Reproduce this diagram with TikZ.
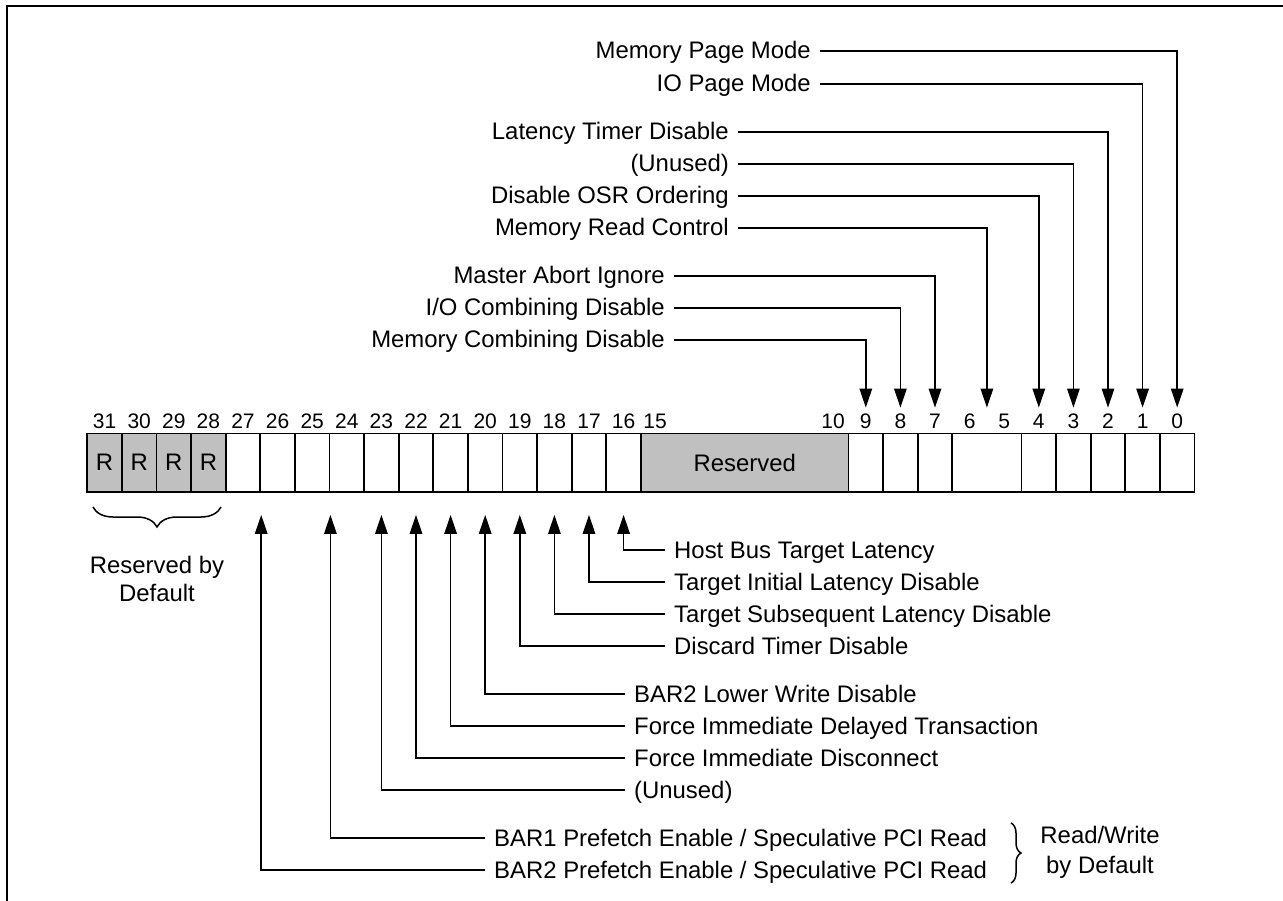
\documentclass[tikz,border=0pt]{standalone}
\usepackage{fontspec}
\setmainfont{Liberation Sans}
\usetikzlibrary{arrows.meta,calc,decorations.pathreplacing}
\definecolor{regfill}{RGB}{192,192,192}
\begin{document}
\begin{tikzpicture}[x=1pt,y=-1pt,
  every node/.style={font=\fontsize{23.9}{28}\selectfont},
  cell/.style={draw,line width=1.8pt,minimum width=34.6pt,minimum height=58.2pt,inner sep=0pt,anchor=center},
  bitno/.style={font=\fontsize{21}{24}\selectfont,inner sep=0pt},
  tl/.style={anchor=east,inner xsep=9pt,inner ysep=0pt,text height=16pt,text depth=0pt},
  bl/.style={anchor=west,inner xsep=9pt,inner ysep=0pt,text height=16pt,text depth=0pt},
  arr/.style={line width=1.5pt,-{Triangle[length=19pt,width=12.5pt]}},
  brc/.style={line width=1.5pt,decorate},
  ]
\useasboundingbox (0,0) rectangle (1283,901);
\draw[line width=2pt] (6.7,901) -- (6.7,6) -- (1283,6);

% register cells
\foreach \i in {31,30,29,28}
  \node[cell,fill=regfill] (b\i) at ({87.3+(31.5-\i)*34.6},462.6) {R};
\foreach \i in {27,...,16}
  \node[cell] (b\i) at ({87.3+(31.5-\i)*34.6},462.6) {};
\node[cell,fill=regfill,minimum width=207.6pt] (res) at ({87.3+19*34.6},462.6) {Reserved};
\foreach \i in {9,8,7}
  \node[cell] (b\i) at ({87.3+(31.5-\i)*34.6},462.6) {};
\node[cell,minimum width=69.2pt] (b65) at ({87.3+26*34.6},462.6) {};
\foreach \i in {4,3,2,1,0}
  \node[cell] (b\i) at ({87.3+(31.5-\i)*34.6},462.6) {};

% bit numbers
\foreach \i in {31,...,16}
  \node[bitno] (n\i) at ({87.3+(31.5-\i)*34.6},421) {\i};
\foreach \i in {9,8,7,6,5,4,3,2,1,0}
  \node[bitno] (n\i) at ({87.3+(31.5-\i)*34.6},421) {\i};
\node[bitno] (n15) at (655,421) {15};
\node[bitno] (n10) at (833,421) {10};

% top arrow tips (just above the bit numbers)
\foreach \k in {0,1,2,3,4,65,7,8,9}
  \coordinate (u\k) at ($(b\k.north)+(0,-25)$);

% top labels
\node[tl] (l0) at (820,51) {Memory Page Mode};
\node[tl] (l1) at (820,84) {IO Page Mode};
\node[tl] (l2) at (738,132) {Latency Timer Disable};
\node[tl] (l3) at (738,164) {(Unused)};
\node[tl] (l4) at (738,196) {Disable OSR Ordering};
\node[tl] (l65) at (738,228) {Memory Read Control};
\node[tl] (l7) at (674,276) {Master Abort Ignore};
\node[tl] (l8) at (674,308) {I/O Combining Disable};
\node[tl] (l9) at (674,340) {Memory Combining Disable};
\foreach \k in {0,1,2,3,4,65,7,8,9}
  \draw[arr] (l\k.east) -| (u\k);

% bottom arrow tips
\foreach \i in {23,22,21,20,19,18,17,16}
  \coordinate (t\i) at ($(b\i.south)+(0,22.3)$);
\coordinate (t2524) at ($(b25.south east)+(0,22.3)$);
\coordinate (t2726) at ($(b27.south east)+(0,22.3)$);

% bottom labels
\node[bl] (m16) at (665,550) {Host Bus Target Latency};
\node[bl] (m17) at (665,582) {Target Initial Latency Disable};
\node[bl] (m18) at (665,614) {Target Subsequent Latency Disable};
\node[bl] (m19) at (665,646) {Discard Timer Disable};
\node[bl] (m20) at (625,694) {BAR2 Lower Write Disable};
\node[bl] (m21) at (625,726) {Force Immediate Delayed Transaction};
\node[bl] (m22) at (625,758) {Force Immediate Disconnect};
\node[bl] (m23) at (625,790) {(Unused)};
\node[bl] (m2524) at (485,838) {BAR1 Prefetch Enable / Speculative PCI Read};
\node[bl] (m2726) at (485,870) {BAR2 Prefetch Enable / Speculative PCI Read};
\foreach \k in {16,17,18,19,20,21,22,23,2524,2726}
  \draw[arr] (m\k.west) -| (t\k);

% braces
\draw[brc,decoration={brace,mirror,amplitude=20pt}] (93,507) -- (221,507);
\node[align=center] (rbd) at (157,579) {Reserved by\\Default};
\draw[brc,decoration={brace,amplitude=10pt}] (1011,823) -- (1011,883);
\node[align=center,font=\fontsize{23.9}{30}\selectfont] (rwd) at (1100,852) {Read/Write\\by Default};
\end{tikzpicture}
\end{document}
